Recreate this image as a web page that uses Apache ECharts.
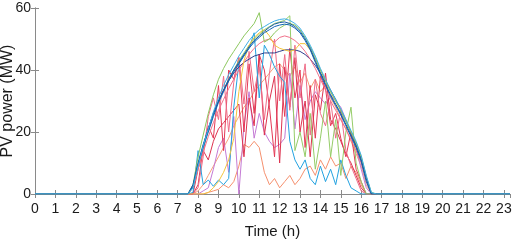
<!DOCTYPE html>
<html>
<head>
<meta charset="utf-8">
<script src="https://cdn.jsdelivr.net/npm/echarts@6/dist/echarts.min.js"></script>
<style>
  html, body { margin: 0; padding: 0; background: #fff; }
  #chart { width: 512px; height: 242px; }
</style>
</head>
<body>
<div id="chart"></div>
<script>
// time of day (h) for the daylight samples, 15 min step
const TIME = [7.5, 7.75, 8, 8.25, 8.5, 8.75, 9, 9.25, 9.5, 9.75, 10, 10.25, 10.5, 10.75, 11, 11.25, 11.5, 11.75, 12, 12.25,
  12.5, 12.75, 13, 13.25, 13.5, 13.75, 14, 14.25, 14.5, 14.75, 15, 15.25, 15.5, 15.75, 16, 16.25, 16.5, 16.75];
const X_TICKS = [0, 1, 2, 3, 4, 5, 6, 7, 8, 9, 10, 11, 12, 13, 14, 15, 16, 17, 18, 19, 20, 21, 22, 23];
const Y_TICKS = [0, 20, 40, 60];

// PV power (MW) per scenario
const salmonLow = [0, 0, 0, 0, 0.5, 1, 1.5, 3, 2, 4, 9, 16, 15, 17, 15, 7, 3, 5, 2, 4, 6, 3, 5, 8, 9, 6, 11, 8, 12, 9, 10, 5, 9, 7, 3, 0, 0, 0];
const salmonHigh = [0, 0, 1, 3, 6, 9, 12, 15, 18, 22, 25, 28, 30, 33, 35, 37, 39, 41, 42, 40, 38, 41, 36, 39, 34, 37, 33, 35, 31, 28, 24, 21, 17, 13, 9, 3, 0, 0];
const purpleJag = [0, 0, 0, 1, 2, 8, 15, 18, 7, 25, 0, 22, 33, 18, 26, 20, 17, 15, 16, 18, 39, 21, 35, 24, 30, 33, 31, 29, 32, 30, 28, 24, 20, 15, 8, 2, 0, 0];
const redJag1 = [0, 0, 3, 15, 22, 18, 35, 14, 40, 37, 44, 20, 42, 26, 45, 40, 28, 12, 42, 25, 47, 31, 40, 15, 35, 18, 38, 34, 22, 26, 18, 12, 20, 8, 4, 0, 0, 0];
const redJag2 = [0, 0, 8, 14, 11, 17, 21, 23, 25, 27, 29, 12, 31, 22, 45, 19, 30, 38, 10, 41, 28, 44, 20, 30, 12, 32, 27, 39, 24, 21, 17, 13, 10, 6, 2, 0, 0, 0];
const pinkJag = [0, 0, 2, 12, 25, 31, 24, 38, 20, 36, 44, 29, 46, 33, 41, 24, 39, 50, 30, 45, 27, 48, 31, 42, 19, 37, 26, 22, 30, 18, 27, 14, 9, 5, 1, 0, 0, 0];
const blueJag = [0, 0.5, 14, 3, 4.5, 2.5, 4.5, 3, 5, 28, 42, 45, 47, 52, 31, 48, 45, 41, 38, 36, 17, 11, 8, 11, 5, 3, 9, 4, 8, 3, 11, 6, 2, 1, 0, 0, 0, 0];
const greenJag = [0, 2, 9, 15, 20.5, 25.5, 30, 33.5, 37, 40, 43, 45.5, 48, 50, 51.5, 53, 54, 55, 55.5, 56, 57.5, 14, 20, 12, 26, 8, 18, 30, 12, 24, 6, 20, 28, 10, 4, 0, 0, 0];
const navyDay = [0, 2.5, 9.5, 15.5, 21, 26, 30, 33.5, 36.5, 39, 41, 42.5, 43.5, 44.5, 45, 45.5, 45.5, 45.5, 46, 46.5, 46.5, 46.5, 46, 45, 43.5, 41.5, 39, 36.5, 33.5, 30.5, 27, 23.5, 20, 16, 11.5, 5, 0, 0];
const pinkDay = [0, 2, 8, 13.5, 18.5, 23, 27, 30.5, 34, 37, 40, 42.5, 45, 47, 48.5, 49.5, 50, 49, 50.5, 51, 50.5, 49.5, 48, 46, 43.5, 40.5, 37, 33.5, 30, 27, 24, 21, 17.5, 14, 10, 4.5, 0, 0];
const yellowDay = [0, 0, 0, 0, 0.5, 2, 4, 7, 11, 18, 33, 43, 48, 50.5, 52, 53, 51, 48, 47, 46.5, 46, 46.5, 48.5, 48.5, 46.5, 43.5, 40, 36.5, 33, 30, 27, 23.5, 20, 16.5, 12, 5.5, 0, 0];
const greenHigh = [0, 3, 12, 19, 26, 32, 37, 40.5, 43.5, 46, 48.5, 51, 53, 55, 58.5, 49, 50, 52, 53.5, 54.5, 55, 54.5, 53, 50.5, 47.5, 44, 40, 36.5, 33, 30, 27, 23.5, 20, 16.5, 12, 5.5, 0.5, 0];
const blueClear = [0, 2.5, 9.5, 15, 20, 25, 29.5, 33, 36.5, 39.5, 42, 44.5, 47, 49, 50.5, 52, 53, 54, 54.5, 54.8, 54.5, 53.5, 52, 49.5, 46.5, 42.5, 38.5, 35, 31.5, 28.5, 25.5, 22, 18.5, 15, 10.5, 4, 0, 0];
const envClear = [0, 3, 10, 16, 21, 26, 30, 33.5, 37, 40, 42.5, 45, 47.5, 49.5, 51, 52.5, 53.8, 54.8, 55.3, 55.5, 55, 54, 52.5, 50, 47, 43, 39, 35.5, 32, 29, 26, 22.5, 19, 15.5, 11, 5, 0, 0];
const cyanClear = [0, 2, 9, 15.5, 21, 26.5, 31, 35, 38.5, 41.5, 44.5, 47, 49.5, 51.5, 53, 54, 55, 55.8, 56.3, 56.5, 56, 55, 53.5, 51, 48, 44.5, 40.5, 37, 33.5, 30.5, 27.5, 24, 20.5, 17, 12.5, 6, 0.5, 0];

const X_MAX = 23.3;

const SCENARIOS = [
  { values: salmonLow, color: '#f5906e' },
  { values: salmonHigh, color: '#f7a07c' },
  { values: purpleJag, color: '#c47ad4' },
  { values: redJag1, color: '#e43a56' },
  { values: redJag2, color: '#dd3350' },
  { values: pinkJag, color: '#ef6d88' },
  { values: blueJag, color: '#23a2e0' },
  { values: greenJag, color: '#95cc68' },
  { values: navyDay, color: '#2f3f8c' },
  { values: pinkDay, color: '#f0708a' },
  { values: yellowDay, color: '#f3c43c' },
  { values: greenHigh, color: '#8cc75e' },
  { values: blueClear, color: '#1066b4' },
  { values: envClear, color: '#1a5aa6' },
  { values: cyanClear, color: '#3fb0e6' },
];

function toPoints(values) {
  // night hours are zero output
  const pts = [[0, 0]];
  TIME.forEach((t, i) => pts.push([t, values[i]]));
  pts.push([X_MAX, 0]);
  return pts;
}

function initChart(container) {
  const chart = echarts.init(container);
  const axisColor = '#8a8a8a';
  const labelColor = '#1a1a1a';
  const font = 'Liberation Sans, Arial, sans-serif';
  chart.setOption({
    animation: false,
    grid: { left: 35, right: 2, top: 8, bottom: 48, outerBoundsMode: 'none', containLabel: false },
    xAxis: [
      {
        type: 'value',
        min: X_TICKS[0],
        max: X_MAX,
        interval: 1,
        name: 'Time (h)',
        nameLocation: 'middle',
        nameGap: 30,
        nameMoveOverlap: false,
        nameTextStyle: { color: labelColor, fontSize: 15, fontFamily: font },
        axisLine: { lineStyle: { color: axisColor } },
        axisTick: { inside: true, length: 4, lineStyle: { color: axisColor } },
        axisLabel: {
          color: labelColor, fontSize: 14, fontFamily: font, margin: 8, showMaxLabel: false,
          formatter: (v) => (X_TICKS.indexOf(v) >= 0 ? String(v) : ''),
        },
        splitLine: { show: false },
      },
      {
        type: 'value',
        position: 'top',
        min: X_TICKS[0],
        max: X_MAX,
        interval: 1,
        axisLine: { lineStyle: { color: axisColor } },
        axisTick: { inside: true, length: 4, lineStyle: { color: axisColor } },
        axisLabel: { show: false },
        splitLine: { show: false },
      },
    ],
    yAxis: [
      {
        type: 'value',
        min: Y_TICKS[0],
        max: Y_TICKS[Y_TICKS.length - 1],
        interval: 20,
        name: 'PV power (MW)',
        nameLocation: 'middle',
        nameGap: 19,
        nameMoveOverlap: false,
        nameTextStyle: { color: labelColor, fontSize: 16, fontFamily: font },
        axisLine: { show: true, lineStyle: { color: axisColor } },
        axisTick: { show: true, inside: true, length: 4, lineStyle: { color: axisColor } },
        axisLabel: { color: labelColor, fontSize: 14, fontFamily: font, margin: 4 },
        splitLine: { show: false },
      },
      {
        type: 'value',
        position: 'right',
        min: Y_TICKS[0],
        max: Y_TICKS[Y_TICKS.length - 1],
        interval: 20,
        axisLine: { show: true, lineStyle: { color: axisColor } },
        axisTick: { show: true, inside: true, length: 4, lineStyle: { color: axisColor } },
        axisLabel: { show: false },
        splitLine: { show: false },
      },
    ],
    series: SCENARIOS.map((s) => ({
      type: 'line',
      xAxisIndex: 0,
      yAxisIndex: 0,
      showSymbol: false,
      data: toPoints(s.values),
      lineStyle: { color: s.color, width: 1 },
      itemStyle: { color: s.color },
    })),
  });
}

initChart(document.getElementById('chart'));
</script>
</body>
</html>
